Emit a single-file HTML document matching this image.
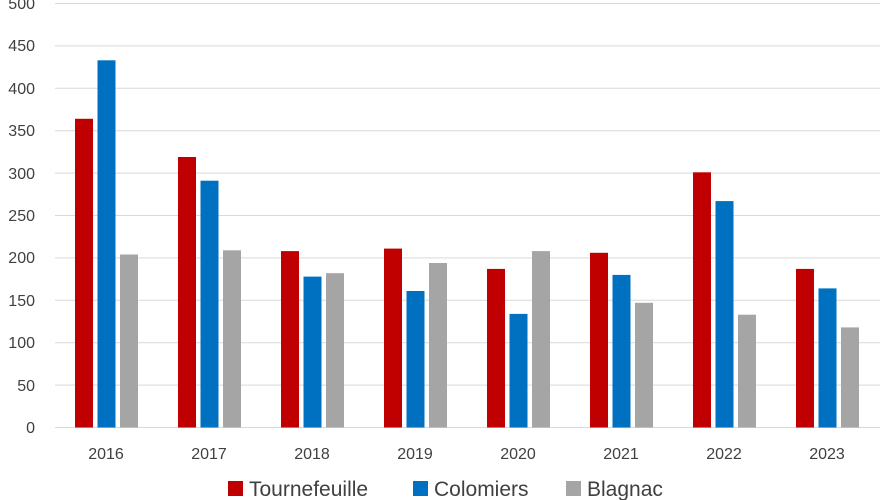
<!DOCTYPE html>
<html><head><meta charset="utf-8"><style>
html,body{margin:0;padding:0;background:#fff;}
svg{display:block;}
text{font-family:"Liberation Sans",sans-serif;fill:#404040;}
</style></head><body>
<svg width="885" height="500" viewBox="0 0 885 500" xmlns="http://www.w3.org/2000/svg">
<g stroke="#d9d9d9" stroke-width="1">
<line x1="55" x2="880" y1="3.5" y2="3.5"/>
<line x1="55" x2="880" y1="45.9" y2="45.9"/>
<line x1="55" x2="880" y1="88.3" y2="88.3"/>
<line x1="55" x2="880" y1="130.7" y2="130.7"/>
<line x1="55" x2="880" y1="173.1" y2="173.1"/>
<line x1="55" x2="880" y1="215.5" y2="215.5"/>
<line x1="55" x2="880" y1="257.9" y2="257.9"/>
<line x1="55" x2="880" y1="300.3" y2="300.3"/>
<line x1="55" x2="880" y1="342.7" y2="342.7"/>
<line x1="55" x2="880" y1="385.1" y2="385.1"/>
<line x1="55" x2="880" y1="427.5" y2="427.5"/>
</g>
<g font-size="16" text-anchor="end">
<text x="35" y="9">500</text><text x="35" y="51">450</text><text x="35" y="94">400</text>
<text x="35" y="136">350</text><text x="35" y="179">300</text><text x="35" y="221">250</text>
<text x="35" y="263">200</text><text x="35" y="306">150</text><text x="35" y="348">100</text>
<text x="35" y="391">50</text><text x="35" y="433">0</text>
</g>
<g fill="#C00000">
<rect x="75" y="118.8" width="18" height="308.7"/>
<rect x="178" y="157.0" width="18" height="270.5"/>
<rect x="281" y="251.1" width="18" height="176.4"/>
<rect x="384" y="248.6" width="18" height="178.9"/>
<rect x="487" y="268.9" width="18" height="158.6"/>
<rect x="590" y="252.8" width="18" height="174.7"/>
<rect x="693" y="172.3" width="18" height="255.2"/>
<rect x="796" y="268.9" width="18" height="158.6"/>
</g>
<g fill="#0070C0">
<rect x="97.5" y="60.3" width="18" height="367.2"/>
<rect x="200.5" y="180.7" width="18" height="246.8"/>
<rect x="303.5" y="276.6" width="18" height="150.9"/>
<rect x="406.5" y="291.0" width="18" height="136.5"/>
<rect x="509.5" y="313.9" width="18" height="113.6"/>
<rect x="612.5" y="274.9" width="18" height="152.6"/>
<rect x="715.5" y="201.1" width="18" height="226.4"/>
<rect x="818.5" y="288.4" width="18" height="139.1"/>
</g>
<g fill="#A5A5A5">
<rect x="120" y="254.5" width="18" height="173.0"/>
<rect x="223" y="250.3" width="18" height="177.2"/>
<rect x="326" y="273.2" width="18" height="154.3"/>
<rect x="429" y="263.0" width="18" height="164.5"/>
<rect x="532" y="251.1" width="18" height="176.4"/>
<rect x="635" y="302.8" width="18" height="124.7"/>
<rect x="738" y="314.7" width="18" height="112.8"/>
<rect x="841" y="327.4" width="18" height="100.1"/>
</g>
<g font-size="16" text-anchor="middle">
<text x="106" y="459">2016</text><text x="209" y="459">2017</text><text x="312" y="459">2018</text>
<text x="415" y="459">2019</text><text x="518" y="459">2020</text><text x="621" y="459">2021</text>
<text x="724" y="459">2022</text><text x="827" y="459">2023</text>
</g>
<g font-size="21">
<rect x="228" y="481" width="15" height="15" fill="#C00000"/><text x="249" y="496">Tournefeuille</text>
<rect x="413" y="481" width="15" height="15" fill="#0070C0"/><text x="434" y="496">Colomiers</text>
<rect x="566" y="481" width="15" height="15" fill="#A5A5A5"/><text x="587" y="496">Blagnac</text>
</g>
</svg>
</body></html>
